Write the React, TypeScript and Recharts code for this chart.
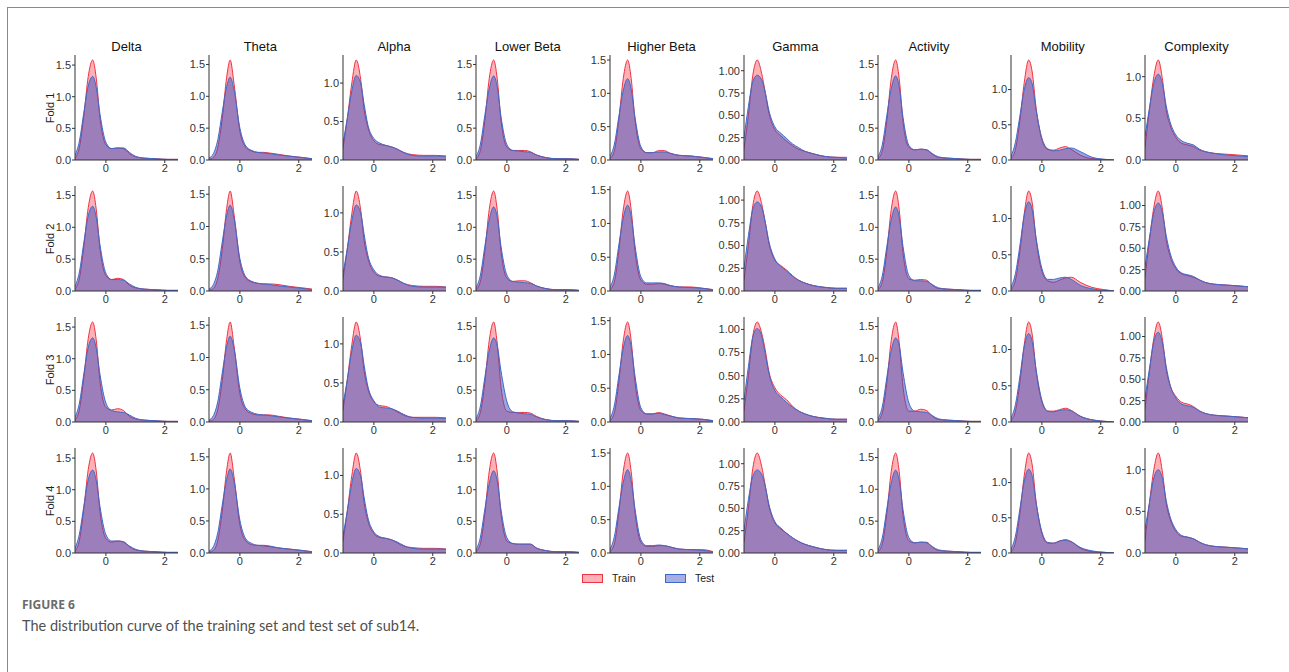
import React from 'react';
import { AreaChart, Area, XAxis, YAxis } from 'recharts';

// shared x grid of the density estimates (standardised feature value)
const GRID = [-1.05, -0.9, -0.75, -0.6, -0.45, -0.33, -0.2, 0, 0.2, 0.4, 0.6, 0.8, 1.0, 1.3, 1.7, 2.1, 2.45];

const BANDS = ['Delta', 'Theta', 'Alpha', 'Lower Beta', 'Higher Beta', 'Gamma', 'Activity', 'Mobility', 'Complexity'];
const FOLDS = ['Fold 1', 'Fold 2', 'Fold 3', 'Fold 4'];

const X_TICKS = [0, 2];
const HALF_TICKS = [0, 0.5, 1, 1.5];
const QUARTER_TICKS = [0, 0.25, 0.5, 0.75, 1];

// one row per fold
const DELTA_TRAIN = [
  [0.03, 0.2, 0.7, 1.32, 1.58, 1.3, 0.66, 0.24, 0.18, 0.19, 0.18, 0.1, 0.05, 0.03, 0.02, 0.01, 0.01],
  [0.03, 0.2, 0.7, 1.31, 1.57, 1.29, 0.66, 0.24, 0.18, 0.2, 0.18, 0.09, 0.05, 0.03, 0.02, 0.01, 0.01],
  [0.03, 0.2, 0.7, 1.32, 1.58, 1.3, 0.64, 0.23, 0.19, 0.21, 0.18, 0.09, 0.05, 0.03, 0.02, 0.01, 0.01],
  [0.03, 0.2, 0.7, 1.32, 1.58, 1.3, 0.65, 0.23, 0.17, 0.19, 0.18, 0.1, 0.05, 0.03, 0.02, 0.01, 0.01],
];
const DELTA_TEST = [
  [0.07, 0.3, 0.75, 1.17, 1.32, 1.15, 0.72, 0.28, 0.18, 0.19, 0.19, 0.12, 0.06, 0.03, 0.02, 0.01, 0.01],
  [0.07, 0.3, 0.76, 1.18, 1.33, 1.16, 0.72, 0.28, 0.18, 0.18, 0.17, 0.11, 0.06, 0.03, 0.02, 0.01, 0.01],
  [0.07, 0.3, 0.76, 1.18, 1.33, 1.17, 0.75, 0.3, 0.18, 0.16, 0.15, 0.11, 0.06, 0.03, 0.02, 0.01, 0.01],
  [0.07, 0.3, 0.74, 1.16, 1.31, 1.15, 0.73, 0.29, 0.19, 0.19, 0.17, 0.11, 0.06, 0.03, 0.02, 0.01, 0.01],
];

const THETA_TRAIN = [
  [0.01, 0.04, 0.2, 0.65, 1.3, 1.57, 1.2, 0.45, 0.2, 0.14, 0.12, 0.12, 0.11, 0.09, 0.06, 0.04, 0.02],
  [0.01, 0.04, 0.2, 0.64, 1.28, 1.55, 1.19, 0.45, 0.2, 0.14, 0.12, 0.11, 0.11, 0.1, 0.07, 0.05, 0.03],
  [0.01, 0.04, 0.2, 0.64, 1.28, 1.55, 1.18, 0.44, 0.19, 0.13, 0.11, 0.11, 0.11, 0.09, 0.06, 0.04, 0.02],
  [0.01, 0.04, 0.2, 0.65, 1.29, 1.56, 1.19, 0.44, 0.19, 0.13, 0.12, 0.11, 0.1, 0.08, 0.06, 0.04, 0.02],
];
const THETA_TEST = [
  [0.03, 0.1, 0.32, 0.75, 1.15, 1.3, 1.1, 0.5, 0.22, 0.15, 0.12, 0.11, 0.1, 0.08, 0.06, 0.04, 0.02],
  [0.03, 0.1, 0.32, 0.76, 1.17, 1.33, 1.13, 0.5, 0.22, 0.15, 0.12, 0.11, 0.1, 0.08, 0.06, 0.04, 0.02],
  [0.03, 0.1, 0.32, 0.76, 1.17, 1.33, 1.14, 0.52, 0.22, 0.15, 0.12, 0.11, 0.1, 0.08, 0.06, 0.04, 0.02],
  [0.03, 0.1, 0.32, 0.75, 1.15, 1.31, 1.12, 0.51, 0.22, 0.15, 0.12, 0.12, 0.11, 0.08, 0.06, 0.04, 0.02],
];

const ALPHA_TRAIN = [
  [0.15, 0.55, 1.0, 1.3, 1.05, 0.65, 0.42, 0.25, 0.2, 0.19, 0.17, 0.14, 0.1, 0.07, 0.06, 0.06, 0.05],
  [0.15, 0.55, 0.99, 1.28, 1.04, 0.64, 0.41, 0.24, 0.19, 0.18, 0.17, 0.14, 0.1, 0.07, 0.06, 0.06, 0.05],
  [0.15, 0.55, 0.99, 1.28, 1.04, 0.65, 0.42, 0.26, 0.21, 0.2, 0.17, 0.13, 0.09, 0.06, 0.06, 0.06, 0.05],
  [0.15, 0.55, 1.0, 1.29, 1.04, 0.64, 0.41, 0.25, 0.2, 0.19, 0.17, 0.13, 0.09, 0.07, 0.06, 0.06, 0.05],
];
const ALPHA_TEST = [
  [0.22, 0.55, 0.9, 1.1, 1.0, 0.72, 0.45, 0.28, 0.22, 0.19, 0.17, 0.14, 0.1, 0.06, 0.05, 0.05, 0.05],
  [0.22, 0.55, 0.9, 1.1, 1.0, 0.72, 0.45, 0.27, 0.2, 0.18, 0.17, 0.14, 0.1, 0.06, 0.05, 0.05, 0.05],
  [0.22, 0.55, 0.91, 1.11, 1.01, 0.72, 0.45, 0.27, 0.19, 0.18, 0.17, 0.14, 0.1, 0.06, 0.05, 0.05, 0.05],
  [0.22, 0.55, 0.9, 1.09, 0.99, 0.71, 0.45, 0.27, 0.21, 0.19, 0.17, 0.14, 0.1, 0.06, 0.05, 0.05, 0.05],
];

const LOWBETA_TRAIN = [
  [0.02, 0.15, 0.62, 1.28, 1.57, 1.28, 0.62, 0.2, 0.15, 0.15, 0.15, 0.13, 0.08, 0.04, 0.02, 0.02, 0.01],
  [0.02, 0.15, 0.62, 1.28, 1.57, 1.28, 0.62, 0.2, 0.15, 0.16, 0.16, 0.13, 0.08, 0.04, 0.02, 0.02, 0.01],
  [0.02, 0.15, 0.62, 1.28, 1.57, 1.24, 0.55, 0.17, 0.15, 0.15, 0.15, 0.14, 0.09, 0.04, 0.02, 0.02, 0.01],
  [0.02, 0.15, 0.62, 1.29, 1.58, 1.28, 0.62, 0.19, 0.15, 0.14, 0.14, 0.14, 0.08, 0.04, 0.02, 0.02, 0.01],
];
const LOWBETA_TEST = [
  [0.05, 0.25, 0.7, 1.12, 1.32, 1.15, 0.68, 0.24, 0.15, 0.14, 0.13, 0.12, 0.08, 0.04, 0.02, 0.02, 0.01],
  [0.05, 0.25, 0.7, 1.12, 1.32, 1.16, 0.7, 0.25, 0.15, 0.14, 0.13, 0.12, 0.08, 0.04, 0.02, 0.02, 0.01],
  [0.05, 0.25, 0.7, 1.12, 1.32, 1.2, 0.8, 0.32, 0.16, 0.14, 0.13, 0.12, 0.08, 0.04, 0.02, 0.02, 0.01],
  [0.05, 0.25, 0.69, 1.1, 1.3, 1.14, 0.68, 0.24, 0.15, 0.14, 0.14, 0.14, 0.08, 0.04, 0.02, 0.02, 0.01],
];

const HIGHBETA_TRAIN = [
  [0.02, 0.14, 0.6, 1.22, 1.5, 1.22, 0.6, 0.17, 0.11, 0.11, 0.14, 0.14, 0.1, 0.07, 0.06, 0.04, 0.02],
  [0.02, 0.14, 0.59, 1.2, 1.48, 1.2, 0.59, 0.16, 0.1, 0.1, 0.11, 0.1, 0.08, 0.06, 0.06, 0.04, 0.02],
  [0.02, 0.14, 0.59, 1.2, 1.48, 1.2, 0.59, 0.17, 0.12, 0.12, 0.14, 0.12, 0.09, 0.06, 0.05, 0.04, 0.02],
  [0.02, 0.14, 0.6, 1.22, 1.5, 1.22, 0.6, 0.16, 0.1, 0.1, 0.11, 0.11, 0.09, 0.06, 0.05, 0.05, 0.02],
];
const HIGHBETA_TEST = [
  [0.05, 0.24, 0.65, 1.04, 1.22, 1.06, 0.64, 0.2, 0.11, 0.11, 0.12, 0.12, 0.1, 0.07, 0.06, 0.04, 0.02],
  [0.05, 0.25, 0.68, 1.08, 1.27, 1.1, 0.67, 0.21, 0.12, 0.12, 0.12, 0.11, 0.08, 0.06, 0.05, 0.04, 0.02],
  [0.05, 0.25, 0.68, 1.09, 1.28, 1.11, 0.68, 0.21, 0.12, 0.12, 0.13, 0.11, 0.09, 0.06, 0.05, 0.04, 0.02],
  [0.05, 0.25, 0.67, 1.06, 1.25, 1.08, 0.66, 0.2, 0.11, 0.11, 0.12, 0.11, 0.09, 0.06, 0.05, 0.04, 0.02],
];

const GAMMA_TRAIN = [
  [0.12, 0.5, 0.95, 1.12, 0.97, 0.76, 0.52, 0.34, 0.27, 0.21, 0.16, 0.12, 0.1, 0.07, 0.04, 0.03, 0.03],
  [0.12, 0.5, 0.94, 1.1, 0.96, 0.76, 0.52, 0.34, 0.28, 0.23, 0.17, 0.12, 0.09, 0.06, 0.04, 0.03, 0.03],
  [0.12, 0.5, 0.93, 1.08, 0.96, 0.78, 0.54, 0.37, 0.29, 0.24, 0.17, 0.12, 0.09, 0.06, 0.04, 0.03, 0.03],
  [0.12, 0.5, 0.95, 1.12, 0.97, 0.76, 0.52, 0.34, 0.27, 0.22, 0.17, 0.13, 0.1, 0.07, 0.04, 0.03, 0.03],
];
const GAMMA_TEST = [
  [0.25, 0.6, 0.88, 0.95, 0.9, 0.76, 0.55, 0.37, 0.3, 0.24, 0.18, 0.14, 0.1, 0.07, 0.04, 0.03, 0.02],
  [0.25, 0.61, 0.9, 0.98, 0.92, 0.76, 0.54, 0.35, 0.27, 0.22, 0.16, 0.12, 0.09, 0.06, 0.04, 0.03, 0.03],
  [0.23, 0.6, 0.92, 1.01, 0.93, 0.74, 0.52, 0.34, 0.27, 0.21, 0.16, 0.12, 0.09, 0.06, 0.04, 0.03, 0.03],
  [0.25, 0.6, 0.86, 0.93, 0.88, 0.75, 0.54, 0.35, 0.28, 0.22, 0.17, 0.13, 0.1, 0.07, 0.04, 0.03, 0.03],
];

const ACTIVITY_TRAIN = [
  [0.02, 0.15, 0.62, 1.28, 1.57, 1.28, 0.6, 0.2, 0.16, 0.17, 0.16, 0.09, 0.04, 0.03, 0.02, 0.01, 0.01],
  [0.02, 0.15, 0.62, 1.28, 1.57, 1.28, 0.6, 0.19, 0.17, 0.18, 0.17, 0.09, 0.04, 0.03, 0.02, 0.01, 0.01],
  [0.02, 0.15, 0.62, 1.28, 1.57, 1.25, 0.55, 0.17, 0.17, 0.2, 0.18, 0.09, 0.04, 0.03, 0.02, 0.01, 0.01],
  [0.02, 0.15, 0.62, 1.28, 1.57, 1.28, 0.6, 0.19, 0.16, 0.17, 0.17, 0.09, 0.04, 0.03, 0.02, 0.01, 0.01],
];
const ACTIVITY_TEST = [
  [0.05, 0.25, 0.7, 1.12, 1.32, 1.15, 0.67, 0.23, 0.16, 0.17, 0.16, 0.1, 0.05, 0.03, 0.02, 0.01, 0.01],
  [0.05, 0.25, 0.7, 1.12, 1.32, 1.16, 0.7, 0.24, 0.16, 0.16, 0.15, 0.1, 0.05, 0.03, 0.02, 0.01, 0.01],
  [0.05, 0.25, 0.7, 1.12, 1.32, 1.2, 0.78, 0.3, 0.17, 0.16, 0.15, 0.1, 0.05, 0.03, 0.02, 0.01, 0.01],
  [0.05, 0.25, 0.69, 1.1, 1.3, 1.14, 0.68, 0.24, 0.16, 0.17, 0.16, 0.1, 0.05, 0.03, 0.02, 0.01, 0.01],
];

const MOBILITY_TRAIN = [
  [0.02, 0.15, 0.55, 1.1, 1.42, 1.25, 0.75, 0.29, 0.15, 0.14, 0.17, 0.19, 0.15, 0.07, 0.02, 0.01, 0.0],
  [0.02, 0.15, 0.54, 1.07, 1.38, 1.22, 0.72, 0.27, 0.14, 0.12, 0.15, 0.18, 0.19, 0.12, 0.05, 0.02, 0.0],
  [0.02, 0.15, 0.54, 1.07, 1.38, 1.21, 0.72, 0.28, 0.15, 0.15, 0.17, 0.19, 0.16, 0.08, 0.03, 0.01, 0.0],
  [0.02, 0.15, 0.55, 1.1, 1.42, 1.25, 0.74, 0.28, 0.14, 0.14, 0.17, 0.19, 0.16, 0.07, 0.02, 0.01, 0.0],
];
const MOBILITY_TEST = [
  [0.05, 0.25, 0.62, 1.0, 1.17, 1.08, 0.72, 0.31, 0.16, 0.13, 0.14, 0.16, 0.17, 0.12, 0.04, 0.01, 0.0],
  [0.05, 0.24, 0.62, 1.04, 1.23, 1.12, 0.74, 0.31, 0.16, 0.16, 0.18, 0.19, 0.16, 0.08, 0.03, 0.01, 0.0],
  [0.05, 0.24, 0.62, 1.04, 1.22, 1.11, 0.73, 0.3, 0.15, 0.14, 0.16, 0.17, 0.15, 0.08, 0.03, 0.01, 0.0],
  [0.05, 0.24, 0.62, 1.02, 1.19, 1.09, 0.72, 0.3, 0.15, 0.14, 0.17, 0.18, 0.16, 0.08, 0.03, 0.01, 0.0],
];

const COMPLEXITY_TRAIN = [
  [0.15, 0.6, 1.0, 1.2, 0.95, 0.6, 0.42, 0.27, 0.2, 0.18, 0.16, 0.12, 0.1, 0.08, 0.07, 0.06, 0.05],
  [0.15, 0.59, 0.98, 1.17, 0.94, 0.6, 0.41, 0.26, 0.2, 0.18, 0.16, 0.13, 0.1, 0.08, 0.07, 0.06, 0.05],
  [0.15, 0.59, 0.98, 1.17, 0.95, 0.62, 0.43, 0.3, 0.23, 0.21, 0.18, 0.13, 0.1, 0.08, 0.07, 0.06, 0.05],
  [0.15, 0.6, 1.0, 1.2, 0.95, 0.6, 0.41, 0.26, 0.2, 0.19, 0.17, 0.13, 0.1, 0.08, 0.07, 0.06, 0.05],
];
const COMPLEXITY_TEST = [
  [0.28, 0.62, 0.92, 1.03, 0.9, 0.65, 0.46, 0.3, 0.23, 0.2, 0.18, 0.13, 0.1, 0.08, 0.06, 0.05, 0.04],
  [0.28, 0.62, 0.92, 1.03, 0.9, 0.65, 0.45, 0.28, 0.21, 0.19, 0.17, 0.13, 0.1, 0.08, 0.07, 0.06, 0.05],
  [0.28, 0.62, 0.94, 1.05, 0.91, 0.65, 0.44, 0.28, 0.21, 0.19, 0.17, 0.13, 0.1, 0.08, 0.07, 0.06, 0.05],
  [0.28, 0.6, 0.9, 1.0, 0.88, 0.63, 0.44, 0.28, 0.21, 0.19, 0.17, 0.13, 0.1, 0.08, 0.07, 0.06, 0.05],
];

const TRAIN = [DELTA_TRAIN, THETA_TRAIN, ALPHA_TRAIN, LOWBETA_TRAIN, HIGHBETA_TRAIN, GAMMA_TRAIN, ACTIVITY_TRAIN, MOBILITY_TRAIN, COMPLEXITY_TRAIN];
const TEST = [DELTA_TEST, THETA_TEST, ALPHA_TEST, LOWBETA_TEST, HIGHBETA_TEST, GAMMA_TEST, ACTIVITY_TEST, MOBILITY_TEST, COMPLEXITY_TEST];

const PLOT_W = 103;
const PLOT_H = 105;
const AXIS_W = 40;
const X_AXIS_H = 20;
const TOP_PAD = 4;
const COL_STEP = 133.75;
const ROW_STEP = 131;
const FONT = '"Liberation Sans", Arial, sans-serif';
const AXIS_COLOR = '#333';

const colLeft = (c: number) => 75 + c * COL_STEP;
const rowTop = (r: number) => 55 + r * ROW_STEP;

function Panel({ train, test, left, top }: { train: number[]; test: number[]; left: number; top: number }) {
  const data = GRID.map((x, i) => ({ x, train: train[i], test: test[i] }));
  const yMax = Math.max(...train, ...test) * 1.05;
  const fine = yMax < 1.25;
  const ticks = (fine ? QUARTER_TICKS : HALF_TICKS).filter((t) => t <= yMax);
  const tickStyle = { fontSize: 11, fill: '#333', fontFamily: FONT };

  return (
    <div style={{ position: 'absolute', left: left - AXIS_W, top: top - TOP_PAD }}>
      <AreaChart
        width={AXIS_W + PLOT_W + 2}
        height={TOP_PAD + PLOT_H + X_AXIS_H}
        data={data}
        margin={{ top: TOP_PAD, right: 2, left: 0, bottom: 0 }}
      >
        <XAxis
          dataKey="x"
          type="number"
          domain={[-1.05, 2.45]}
          ticks={X_TICKS}
          allowDataOverflow
          height={X_AXIS_H}
          tick={tickStyle}
          tickSize={3}
          tickMargin={1}
          stroke={AXIS_COLOR}
        />
        <YAxis
          type="number"
          domain={[0, yMax]}
          ticks={ticks}
          allowDataOverflow
          width={AXIS_W}
          tick={tickStyle}
          tickSize={3}
          tickMargin={1}
          stroke={AXIS_COLOR}
          tickFormatter={(v: number) => v.toFixed(fine ? 2 : 1)}
        />
        <Area
          dataKey="train"
          type="monotone"
          fill="#ff2030"
          fillOpacity={0.35}
          stroke="#ee3344"
          strokeWidth={1}
          isAnimationActive={false}
        />
        <Area
          dataKey="test"
          type="monotone"
          fill="#3a4cc0"
          fillOpacity={0.5}
          stroke="#3d6ac8"
          strokeWidth={1}
          isAnimationActive={false}
        />
      </AreaChart>
    </div>
  );
}

export default function App() {
  return (
    <div style={{ position: 'absolute', left: 0, top: 0, width: 1289, height: 672, background: '#fff', overflow: 'hidden', fontFamily: FONT }}>
      <div style={{ position: 'absolute', left: 7, top: 7, width: 1300, height: 700, borderTop: '1px solid #8a8a8a', borderLeft: '1px solid #8a8a8a' }} />

      {BANDS.map((b, c) => (
        <div
          key={b}
          style={{ position: 'absolute', left: colLeft(c) - 10, top: 39, width: PLOT_W + 20, textAlign: 'center', fontSize: 13, color: '#111' }}
        >
          {b}
        </div>
      ))}

      {FOLDS.map((f, r) => (
        <div
          key={f}
          style={{
            position: 'absolute',
            left: 50 - 30,
            top: rowTop(r) + PLOT_H / 2 - 7,
            width: 60,
            height: 14,
            lineHeight: '14px',
            textAlign: 'center',
            fontSize: 11,
            color: '#222',
            transform: 'rotate(-90deg)',
          }}
        >
          {f}
        </div>
      ))}

      {BANDS.map((b, c) =>
        FOLDS.map((f, r) => (
          <Panel key={b + f} train={TRAIN[c][r]} test={TEST[c][r]} left={colLeft(c)} top={rowTop(r)} />
        ))
      )}

      {/* legend */}
      <div style={{ position: 'absolute', left: 582, top: 574, width: 21, height: 9, background: 'rgba(255,32,48,0.35)', border: '1px solid #ee3344', boxSizing: 'border-box' }} />
      <div style={{ position: 'absolute', left: 612, top: 572, fontSize: 10.5, color: '#222' }}>Train</div>
      <div style={{ position: 'absolute', left: 665, top: 574, width: 21, height: 9, background: 'rgba(58,76,192,0.45)', border: '1px solid #3d6ac8', boxSizing: 'border-box' }} />
      <div style={{ position: 'absolute', left: 695, top: 572, fontSize: 10.5, color: '#222' }}>Test</div>

      {/* caption */}
      <div style={{ position: 'absolute', left: 22, top: 596, fontFamily: '"Open Sans", sans-serif', fontWeight: 700, fontSize: 12, color: '#6b6b6b' }}>
        FIGURE 6
      </div>
      <div style={{ position: 'absolute', left: 22, top: 617, fontFamily: 'Lato, "Open Sans", sans-serif', fontSize: 14.5, color: '#505050' }}>
        The distribution curve of the training set and test set of sub14.
      </div>
    </div>
  );
}
